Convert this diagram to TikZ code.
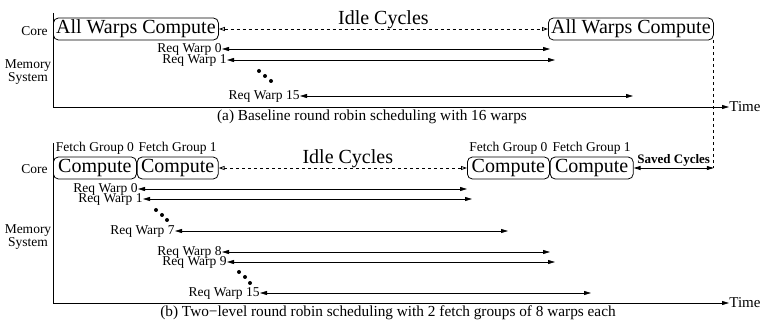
\documentclass[tikz,border=0pt]{standalone}
\usepackage{fontspec}
\setmainfont{Liberation Serif}
\usetikzlibrary{arrows.meta,positioning}

\tikzset{
  fase/.style={draw, rounded corners=5pt, minimum height=22pt, inner sep=1pt, font=\fontsize{20}{20}\selectfont},
  rotulo/.style={font=\fontsize{13.5}{11}\selectfont, inner sep=0pt},
  req/.style={rotulo, anchor=east, text height=7pt, text depth=0pt},
  pedido/.style={{Triangle[length=7pt,width=4pt]}-{Triangle[length=7pt,width=4pt]}},
  ocioso/.style={dashed, {Triangle[open,length=6pt,width=4pt]}-{Triangle[open,length=6pt,width=4pt]}},
  eixo/.style={-{Triangle[length=7pt,width=4pt]}},
  ponto/.style={circle, fill, inner sep=0pt, minimum size=4pt},
}

\begin{document}
\begin{tikzpicture}[x=1pt, y=-1pt, line width=0.8pt]
    \useasboundingbox (0,0) rectangle (761,323);

    % (a) escalonamento de base
    \node[rotulo] (corea) at (34.5,31) {Core};
    \node[rotulo, align=center] (mema) at (28,72) {Memory\\System};
    \node[fase, anchor=west, minimum width=165pt] (alla) at (53,29) {All Warps Compute};
    \node[fase, anchor=west, minimum width=165pt] (allb) at (548,29) {All Warps Compute};
    \draw[ocioso] (alla.east) -- node[above, inner sep=0pt, font=\fontsize{20}{20}\selectfont]{Idle Cycles} (allb.west);

    % pedidos
    \foreach \w/\y/\xl/\xr in {0/49/222/550, 1/60/227/555, 15/96/300/633}{
        \node[req] (qa\w) at (\xl,\y) {Req Warp \w};
        \coordinate (ea\w) at (\xr,\y);
        \draw[pedido] (qa\w.east) -- (ea\w);
    }
    \node[ponto] at (259,71) {};
    \node[ponto] at (265,76) {};
    \node[ponto] at (271,81) {};

    % eixos
    \node[rotulo, anchor=west, font=\fontsize{15}{15}\selectfont] (tempoa) at (729,107) {Time};
    \draw[eixo] (53,13) -- (53,107) -- (tempoa.west);
    \node[font=\fontsize{15.3}{15}\selectfont, inner sep=0pt] (capa) at (372,117) {(a) Baseline round robin scheduling with 16 warps};

    % (b) dois niveis
    \node[rotulo] (coreb) at (34.5,169) {Core};
    \node[rotulo, align=center] (memb) at (28,237) {Memory\\System};
    \node[fase, anchor=west, minimum width=83pt] (c0) at (53,168) {Compute};
    \node[fase, right=0pt of c0, minimum width=81pt] (c1) {Compute};
    \node[fase, anchor=west, minimum width=82pt] (c2) at (467,168) {Compute};
    \node[fase, right=0pt of c2, minimum width=83pt] (c3) {Compute};
    \node[rotulo, above=2pt of c0] {Fetch Group 0};
    \node[rotulo, above=2pt of c1] {Fetch Group 1};
    \node[rotulo, above=2pt of c2] {Fetch Group 0};
    \node[rotulo, above=2pt of c3] {Fetch Group 1};
    \draw[ocioso] (c1.east) -- node[above, inner sep=0pt, xshift=5pt, font=\fontsize{20}{20}\selectfont]{Idle Cycles} (c2.west);

    % ciclos poupados
    \coordinate (fim) at (allb.east |- c3.east);
    \draw[dashed] ([xshift=-0.5pt]allb.south east) -- ([xshift=-0.5pt]fim);
    \draw[pedido] (c3.east) -- node[above, inner sep=1.5pt, font=\bfseries\fontsize{13}{13}\selectfont]{Saved Cycles} (fim);

    % pedidos
    \foreach \w/\y/\xl/\xr in {0/189/138/467, 1/199/143/472, 7/231/175/508, 8/252/222/550, 9/262/227/555, 15/293/260/591}{
        \node[req] (qb\w) at (\xl,\y) {Req Warp \w};
        \coordinate (eb\w) at (\xr,\y);
        \draw[pedido] (qb\w.east) -- (eb\w);
    }
    \node[ponto] at (156,210) {};
    \node[ponto] at (162,215) {};
    \node[ponto] at (167,220) {};
    \node[ponto] at (239,272) {};
    \node[ponto] at (245,277) {};
    \node[ponto] at (250,283) {};

    % eixos
    \node[rotulo, anchor=west, font=\fontsize{15}{15}\selectfont] (tempob) at (729,303) {Time};
    \draw[eixo] (53,143) -- (53,303) -- (tempob.west);
    \node[font=\fontsize{15.3}{15}\selectfont, inner sep=0pt] (capb) at (388,313) {(b) Two−level round robin scheduling with 2 fetch groups of 8 warps each};

\end{tikzpicture}
\end{document}
